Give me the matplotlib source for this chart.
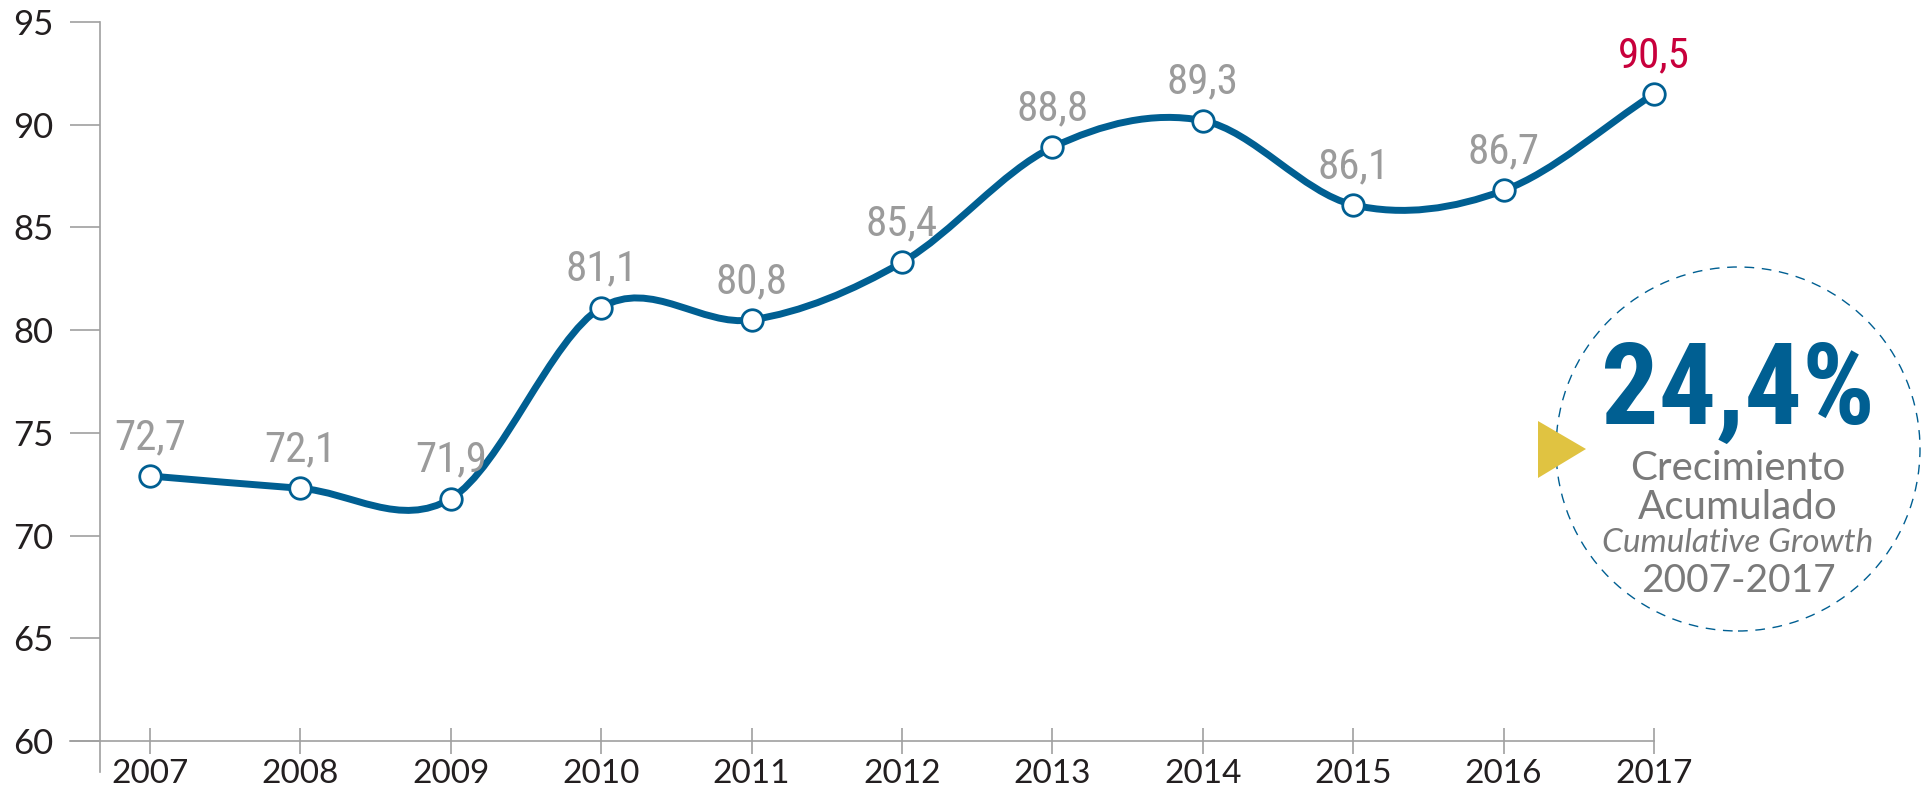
import matplotlib
matplotlib.use("Agg")
import matplotlib.pyplot as plt
from matplotlib.path import Path
from matplotlib.patches import PathPatch, Ellipse, Polygon
import numpy as np

# ---- data ----
years = ["2007", "2008", "2009", "2010", "2011", "2012", "2013", "2014", "2015", "2016", "2017"]
plotted = [72.9, 72.3, 71.8, 81.1, 80.5, 83.3, 88.9, 90.2, 86.1, 86.8, 91.5]
value_labels = ["72,7", "72,1", "71,9", "81,1", "80,8", "85,4", "88,8", "89,3", "86,1", "86,7", "90,5"]
yticks = [60, 65, 70, 75, 80, 85, 90, 95]
growth_text = "24,4%"
growth_lines = ["Crecimiento", "Acumulado", "Cumulative Growth", "2007-2017"]

BLUE = "#005f92"
GRAY_LABEL = "#9b9b9b"
RED = "#c8003c"
AXIS = "#a0a0a0"
DARK = "#231f20"
GOLD = "#e0c341"
CIRC_GRAY = "#7a7a7a"
NARROW = ["Roboto Condensed", "Open Sans Condensed", "Liberation Sans Narrow", "Roboto", "DejaVu Sans"]
GEO = ["Lato", "DejaVu Sans"]

W, H = 1921, 794
fig = plt.figure(figsize=(W / 100, H / 100), dpi=100)

left_px, right_px = 70, 1654
ax = fig.add_axes([left_px / W, 0, (right_px - left_px) / W, 1])
x0 = (left_px - 150) / 150.4
ax.set_xlim(x0, len(years) - 1)
ax.set_ylim(60 - (794 - 741) / 20.54, 95 + 22 / 20.54)
ax.patch.set_alpha(0)

for s in ("top", "right"):
    ax.spines[s].set_visible(False)
ax.spines["left"].set_position(("data", (100 - 150) / 150.4))
ax.spines["left"].set_bounds(60 - (772 - 741) / 20.54, 95)
ax.spines["bottom"].set_position(("data", 60))
ax.spines["bottom"].set_bounds(x0, len(years) - 1)
for s in ("left", "bottom"):
    ax.spines[s].set_color(AXIS)
    ax.spines[s].set_linewidth(1.2)

xs = np.arange(len(years))
ax.set_xticks(xs)
ax.set_xticklabels(years)
ax.set_yticks(yticks)
ax.set_yticklabels([str(v) for v in yticks])
ax.tick_params(axis="y", direction="out", length=21.6, width=1.2, color=AXIS,
               pad=12, labelsize=25, labelcolor=DARK)
ax.tick_params(axis="x", direction="inout", length=19.4, width=1.2, color=AXIS,
               pad=3, labelsize=24, labelcolor=DARK)
for lab in ax.get_xticklabels() + ax.get_yticklabels():
    lab.set_fontfamily(GEO)

# smooth curve (Catmull-Rom -> cubic Bezier)
k = 1.0
pts = np.column_stack([xs, plotted]).astype(float)
n = len(pts)
tang = np.zeros_like(pts)
for i in range(n):
    if i == 0:
        tang[i] = (pts[1] - pts[0])
    elif i == n - 1:
        tang[i] = (pts[-1] - pts[-2])
    else:
        tang[i] = k * (pts[i + 1] - pts[i - 1]) / 2
verts = [tuple(pts[0])]
codes = [Path.MOVETO]
for i in range(n - 1):
    c1 = pts[i] + tang[i] / 3
    c2 = pts[i + 1] - tang[i + 1] / 3
    verts += [tuple(c1), tuple(c2), tuple(pts[i + 1])]
    codes += [Path.CURVE4] * 3
ax.add_patch(PathPatch(Path(verts, codes), facecolor="none", edgecolor=BLUE,
                       lw=5.0, capstyle="round", joinstyle="round", clip_on=False, zorder=3))

ax.plot(xs, plotted, linestyle="none", marker="o", markersize=15.5, markerfacecolor="white",
        markeredgecolor=BLUE, markeredgewidth=2.0, clip_on=False, zorder=4)

for i, (x, y, t) in enumerate(zip(xs, plotted, value_labels)):
    ax.annotate(t, (x, y), xytext=(0, 19.4), textcoords="offset points",
                ha="center", va="baseline", fontsize=31, stretch="condensed",
                color=RED if i == n - 1 else GRAY_LABEL, family=NARROW)

# ---- growth callout ----
cx, cy, r = 1738, 449, 182
fig.patches.append(Ellipse((cx / W, 1 - cy / H), 2 * r / W, 2 * r / H,
                           transform=fig.transFigure, fill=False, edgecolor=BLUE,
                           lw=1.0, linestyle=(0, (7, 5.5))))
tri = [(1538, 421), (1538, 478), (1586, 449)]
fig.patches.append(Polygon([(x / W, 1 - y / H) for x, y in tri], closed=True,
                           transform=fig.transFigure, facecolor=GOLD, edgecolor="none"))

fig.text(cx / W, 1 - 424 / H, growth_text, ha="center", va="baseline", fontsize=82,
         fontweight="bold", stretch="condensed", color=BLUE, family=NARROW)
fig.text(cx / W, 1 - 480 / H, growth_lines[0], ha="center", va="baseline", fontsize=29,
         color=CIRC_GRAY, family=GEO)
fig.text(cx / W, 1 - 519 / H, growth_lines[1], ha="center", va="baseline", fontsize=29,
         color=CIRC_GRAY, family=GEO)
fig.text(cx / W, 1 - 552 / H, growth_lines[2], ha="center", va="baseline", fontsize=24,
         style="italic", color=CIRC_GRAY, family=GEO)
fig.text(cx / W, 1 - 592 / H, growth_lines[3], ha="center", va="baseline", fontsize=28,
         color=CIRC_GRAY, family=GEO)

fig.savefig("out.png", dpi=100)
